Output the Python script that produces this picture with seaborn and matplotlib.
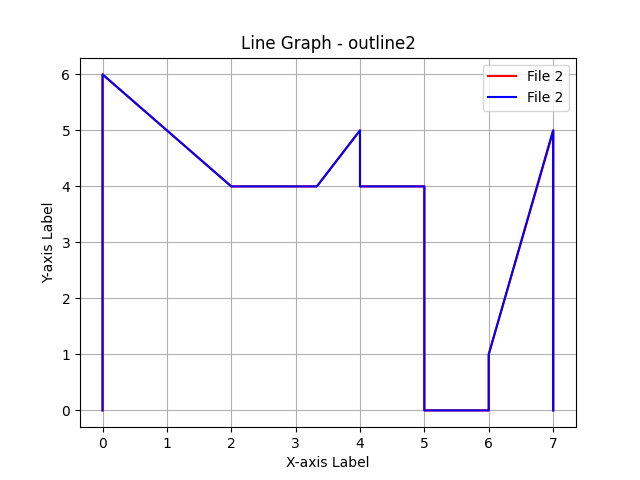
import pandas as pd
import seaborn as sns
import matplotlib.pyplot as plt

# Outline points for each file
red_x = [0, 0, 2, 3.33, 4, 4, 5, 5, 6, 6, 7.006, 7.006]
red_y = [0, 6, 4, 4, 5, 4, 4, 0, 0, 1, 5, 0]
blue_x = [0, 0, 2, 3.33, 4, 4, 5, 5, 6, 6, 7, 7]
blue_y = [0, 6, 4, 4, 5, 4, 4, 0, 0, 1, 5, 0]

red = pd.DataFrame({'x': red_x, 'y': red_y})
blue = pd.DataFrame({'x': blue_x, 'y': blue_y})

fig, ax = plt.subplots(figsize=(6.4, 4.8), dpi=100)
sns.lineplot(data=red, x='x', y='y', sort=False, estimator=None, color='red', label='File 2', ax=ax)
sns.lineplot(data=blue, x='x', y='y', sort=False, estimator=None, color='blue', label='File 2', ax=ax)
ax.set_title('Line Graph - outline2')
ax.set_xlabel('X-axis Label')
ax.set_ylabel('Y-axis Label')
ax.grid(True)
ax.legend(loc='upper right')
plt.savefig('out.png', dpi=100)
